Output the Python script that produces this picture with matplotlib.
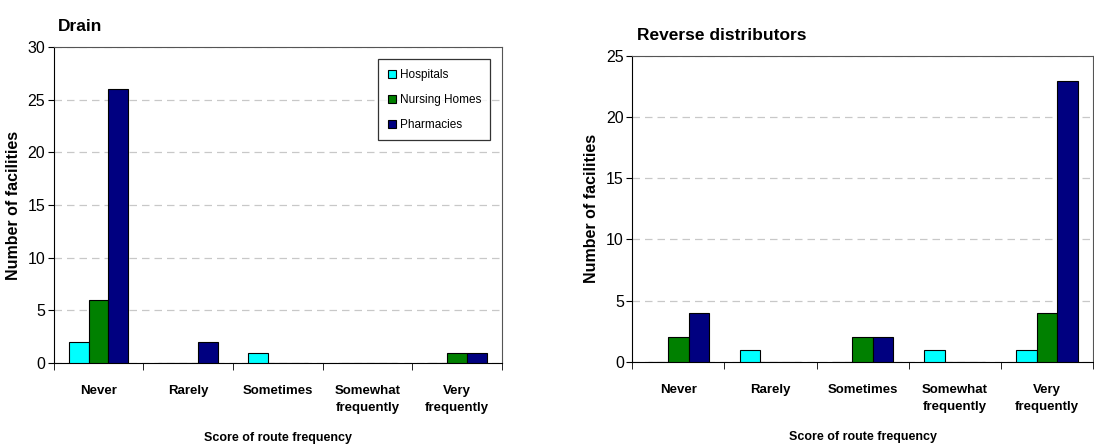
import matplotlib.pyplot as plt
import numpy as np

plt.rcParams['font.family'] = ['Liberation Sans', 'DejaVu Sans']

categories = ["Never", "Rarely", "Sometimes", "Somewhat\nfrequently", "Very\nfrequently"]
series = ["Hospitals", "Nursing Homes", "Pharmacies"]
colors = ["#00FFFF", "#008000", "#000080"]

drain_hosp = [2, 0, 1, 0, 0]
drain_nurs = [6, 0, 0, 0, 1]
drain_pharm = [26, 2, 0, 0, 1]

rev_hosp = [0, 1, 0, 1, 1]
rev_nurs = [2, 0, 2, 0, 4]
rev_pharm = [4, 0, 2, 0, 23]

fig = plt.figure(figsize=(10.94, 4.45), dpi=100)
ax1 = fig.add_axes([0.049, 0.184, 0.410, 0.710])
ax2 = fig.add_axes([0.578, 0.187, 0.421, 0.687])


def draw(ax, data, ymax, title):
    x = np.arange(len(categories))
    w = 0.222
    for i, vals in enumerate(data):
        ax.bar(x + (i - 1) * w, vals, width=w, color=colors[i],
               edgecolor="black", linewidth=0.8, label=series[i], zorder=3)
    ax.set_xlim(-0.5, len(categories) - 0.5)
    ax.set_ylim(0, ymax)
    ax.set_yticks(np.arange(0, ymax + 1, 5))
    ax.yaxis.grid(True, linestyle=(0, (6, 4)), color="#c8c8c8", linewidth=0.9, zorder=0)
    ax.set_xticks(x)
    ax.set_xticklabels(categories, fontweight="bold", fontsize=9.5, linespacing=1.5)
    ax.set_xticks(np.arange(-0.5, len(categories)), minor=True)
    ax.tick_params(axis="x", which="major", length=0, pad=16)
    ax.tick_params(axis="x", which="minor", length=5, direction="out")
    ax.tick_params(axis="y", length=4, direction="out", labelsize=11.5, pad=2)
    ax.spines["left"].set_color("black")
    ax.spines["bottom"].set_color("black")
    ax.spines["top"].set_color("#555555")
    ax.spines["right"].set_color("#555555")
    ax.set_xlabel("Score of route frequency", fontweight="bold", fontsize=9, labelpad=13)
    ax.set_ylabel("Number of facilities", fontweight="bold", fontsize=11.5, labelpad=5)
    ax.set_title(title, loc="left", fontweight="bold", fontsize=12.5, x=0.01, y=1.025)


draw(ax1, [drain_hosp, drain_nurs, drain_pharm], 30, "Drain")
draw(ax2, [rev_hosp, rev_nurs, rev_pharm], 25, "Reverse distributors")

leg = ax1.legend(loc="upper right", bbox_to_anchor=(0.987, 0.98), fontsize=8.5,
                 frameon=True, fancybox=False, edgecolor="black",
                 handlelength=0.7, handleheight=0.7, handletextpad=0.3,
                 labelspacing=1.1, borderpad=0.8)
leg.get_frame().set_linewidth(0.9)

plt.savefig("out.png", dpi=100)
